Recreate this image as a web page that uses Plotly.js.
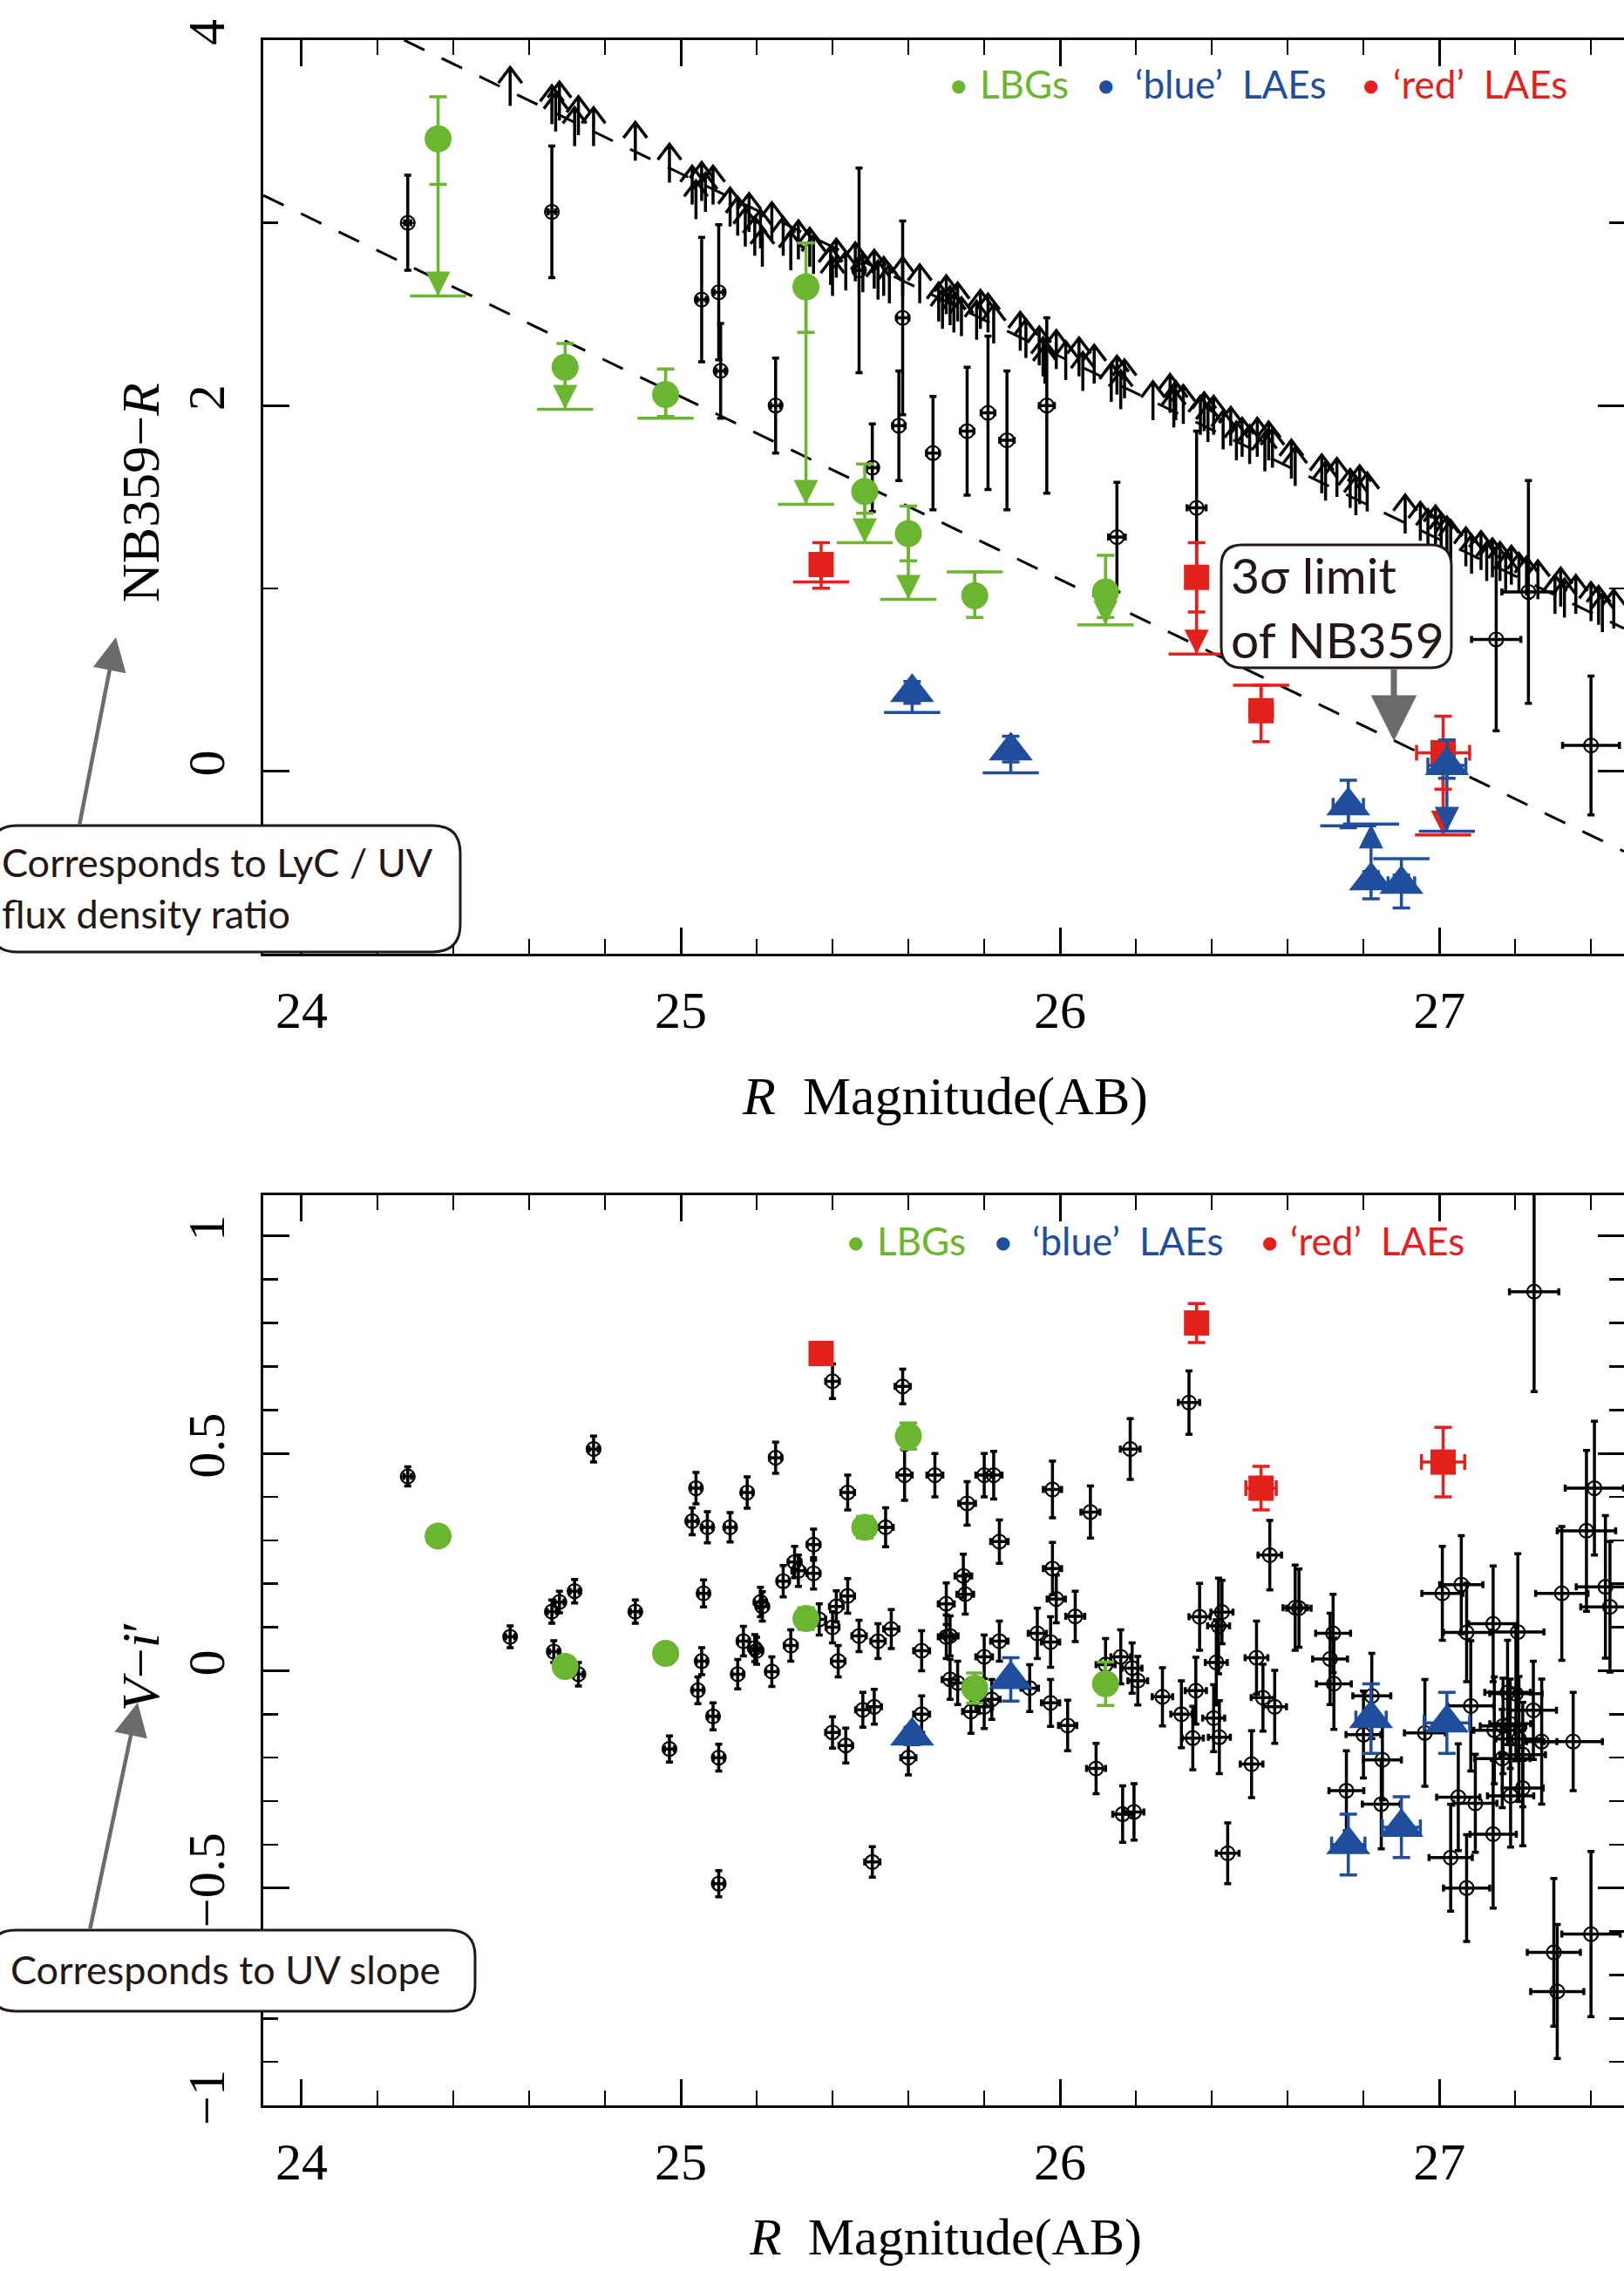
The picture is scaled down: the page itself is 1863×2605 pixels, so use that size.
<!DOCTYPE html>
<html><head><meta charset="utf-8">
<script src="https://cdn.plot.ly/plotly-3.0.1.min.js"></script>
<style>html,body{margin:0;padding:0;background:#fff;}#chart{width:1863px;height:2605px;}</style>
</head><body><div id="chart"></div>
<script>
// ---------------- DATA ----------------
// NB359 3-sigma limit lines (dashed)
const upperLineR = [24.27, 27.487];
const upperLineY = [4.0, 0.78];
const lowerLineR = [23.899, 27.487];
const lowerLineY = [3.15, -0.44];

// NB359 non-detections: lower limits of NB359-R (arrows)
const arrR = [24.55,24.66,24.67,24.68,24.72,24.73,24.77,24.88,24.97,25.03,25.04,25.055,25.065,25.085,25.13,25.15,25.17,25.18,25.195,25.21,25.215,25.24,25.27,25.29,25.31,25.34,25.35,25.395,25.40,25.41,25.435,25.46,25.48,25.51,25.52,25.535,25.55,25.585,25.63,25.68,25.69,25.70,25.71,25.72,25.73,25.74,25.78,25.79,25.81,25.825,25.895,25.91,25.945,25.955,25.96,25.99,26.015,26.05,26.06,26.09,26.135,26.15,26.16,26.17,26.245,26.29,26.30,26.305,26.325,26.37,26.38,26.39,26.405,26.43,26.45,26.465,26.48,26.50,26.52,26.54,26.55,26.56,26.61,26.62,26.69,26.70,26.73,26.765,26.78,26.79,26.81,26.91,26.95,26.97,26.99,27.005,27.02,27.03,27.07,27.085,27.11,27.125,27.14,27.16,27.175,27.19,27.21,27.23,27.26,27.305,27.32,27.33,27.36,27.40,27.42,27.43,27.46];
const arrTail = [3.64,3.54,3.50,3.56,3.42,3.48,3.42,3.34,3.22,3.10,3.02,3.12,3.06,3.10,2.98,2.93,2.87,2.95,2.82,2.86,2.76,2.90,2.82,2.74,2.80,2.76,2.72,2.66,2.60,2.70,2.63,2.68,2.62,2.64,2.58,2.60,2.56,2.60,2.56,2.46,2.42,2.50,2.44,2.40,2.46,2.38,2.36,2.42,2.40,2.34,2.30,2.26,2.22,2.16,2.12,2.20,2.14,2.16,2.08,2.12,2.02,2.06,1.98,2.04,1.92,1.96,1.88,1.92,1.90,1.84,1.86,1.80,1.84,1.76,1.78,1.70,1.72,1.68,1.72,1.64,1.70,1.66,1.60,1.56,1.52,1.48,1.50,1.44,1.40,1.46,1.42,1.30,1.26,1.22,1.24,1.20,1.18,1.16,1.12,1.08,1.10,1.04,1.06,1.04,0.98,1.02,0.98,0.96,0.94,0.86,0.90,0.84,0.86,0.82,0.80,0.76,0.78];

// NB359 detections (top panel, black)
const detR    = [24.28,24.66,25.055,25.10,25.105,25.25,25.47,25.585,25.575,25.505,25.665,25.755,25.81,25.86,25.965,26.15,26.36,27.15,27.235,27.40];
const detY    = [3.00,3.06,2.58,2.62,2.19,2.00,2.74,2.48,1.89,1.66,1.74,1.86,1.96,1.81,2.00,1.28,1.44,0.72,0.98,0.14];
const detErr  = [0.26,0.36,0.34,0.37,0.26,0.26,0.56,0.53,0.30,0.24,0.31,0.35,0.42,0.38,0.48,0.30,0.42,0.50,0.61,0.38];
const detXErr = [0.008,0.01,0.012,0.012,0.012,0.013,0.015,0.016,0.016,0.015,0.017,0.018,0.018,0.019,0.02,0.022,0.025,0.065,0.07,0.075];

// LBGs (green)
const lbgR         = [24.36,24.695,24.96,25.33,25.485,25.60,25.775,26.12];
const lbgTopY      = [3.46,2.21,2.06,2.65,1.53,1.30,0.96,0.98];
const lbgTopErrUp  = [0.23,0.13,0.14,0.24,0.15,0.15,0.13,0.20];
const lbgTopErrDn  = [0.25,0.12,0.12,0.25,0.12,0.15,0.12,0.14];
const lbgTopLim    = [2.60,1.98,1.93,1.46,1.25,0.94,1.09,0.80];
const lbgTopLimDir = ['down','down','down','down','down','down','up','down'];
const lbgBotY      = [0.31,0.01,0.04,0.12,0.33,0.54,-0.04,-0.03];
const lbgBotErr    = [0.015,0.015,0.015,0.025,0.025,0.03,0.035,0.05];

// 'red' LAEs
const redR         = [25.37,26.36,26.53,27.01];
const redTopY      = [1.13,1.06,0.33,0.10];
const redTopErrUp  = [0.12,0.19,0.14,0.20];
const redTopErrDn  = [0.13,0.19,0.17,0.20];
const redTopXErr   = [0,0,0.03,0.07];
const redTopLim    = [1.035,0.64,0.47,-0.35];
const redTopLimDir = ['down','down','up','down'];
const redBotY      = [0.73,0.80,0.42,0.48];
const redBotErr    = [0.025,0.045,0.05,0.08];
const redBotXErr   = [0.01,0.015,0.04,0.057];

// 'blue' LAEs
const blueR         = [25.61,25.87,26.76,26.82,26.90,27.02];
const blueTopY      = [0.43,0.11,-0.19,-0.60,-0.62,0.03];
const blueTopErrUp  = [0.06,0.08,0.14,0.05,0.05,0.14];
const blueTopErrDn  = [0.06,0.06,0.12,0.10,0.13,0.07];
const blueTopXErr   = [0,0,0.04,0,0.035,0.05];
const blueTopLim    = [0.32,-0.01,-0.30,-0.29,-0.48,-0.33];
const blueTopLimDir = ['down','down','down','up','up','down'];
const blueBotY      = [-0.15,-0.02,-0.40,-0.11,-0.36,-0.12];
const blueBotErr    = [0.02,0.05,0.07,0.08,0.07,0.07];
const blueBotXErr   = [0.01,0.015,0.044,0.04,0.05,0.06];

// V - i' colours of all objects (bottom panel, black)
const vR = [24.28,24.77,24.55,24.66,24.68,24.72,24.665,24.73,24.88,24.97,25.04,25.03,25.07,25.06,25.055,25.045,25.085,25.10,25.10,25.13,25.175,25.25,25.15,25.165,25.195,25.20,25.21,25.215,25.24,25.27,25.30,25.31,25.35,25.35,25.29,25.365,25.40,25.41,25.40,25.44,25.44,25.415,25.40,25.435,25.48,25.51,25.47,25.52,25.555,25.54,25.585,25.59,25.60,25.505,25.67,25.755,25.80,25.825,25.98,26.08,26.185,25.84,25.745,25.75,25.70,25.98,25.99,26.04,25.94,25.975,25.84,25.80,25.70,25.71,25.635,25.635,25.71,25.73,25.765,25.80,25.82,25.92,25.975,26.02,26.095,26.165,26.195,26.12,26.16,26.19,26.205,26.34,26.27,26.32,26.358,26.35,26.368,26.405,26.412,26.427,26.418,26.42,26.442,26.518,26.535,26.566,26.505,26.553,26.62,26.63,26.72,26.712,26.722,26.755,26.80,26.822,26.85,26.847,26.962,27.008,27.058,27.072,27.142,27.207,27.083,27.05,27.095,27.03,27.072,27.142,27.166,27.145,27.187,27.202,27.21,27.22,27.188,27.248,27.27,27.18,27.168,27.22,27.353,27.323,27.388,27.409,27.438,27.25,27.302,27.311,27.40,27.45];
const vY = [0.447,0.51,0.078,0.136,0.158,0.183,0.044,-0.008,0.136,-0.18,0.42,0.344,0.33,0.178,0.022,-0.045,-0.105,-0.20,-0.49,0.33,0.41,0.49,-0.008,0.068,0.052,0.046,0.158,0.148,-0.002,0.206,0.25,0.23,0.29,0.224,0.058,0.118,0.10,0.148,0.666,0.41,0.172,0.022,-0.142,-0.172,-0.09,-0.083,0.08,0.068,0.096,0.33,0.654,0.45,-0.20,-0.44,0.45,0.385,0.45,0.45,0.417,0.365,0.51,0.297,0.218,0.176,0.154,0.235,0.165,0.125,0.086,0.066,0.068,0.032,0.078,0.08,0.046,-0.10,-0.02,-0.028,-0.094,-0.083,-0.066,-0.04,-0.074,-0.126,-0.225,-0.33,-0.325,0.014,0.032,0.006,-0.023,0.617,-0.06,-0.10,-0.046,-0.155,0.124,-0.109,0.019,0.135,0.103,-0.153,-0.42,0.03,-0.062,-0.083,-0.215,0.266,0.145,0.144,0.086,0.027,-0.03,-0.276,-0.147,-0.058,-0.205,-0.307,-0.143,0.178,0.198,0.088,0.108,0.089,-0.081,-0.291,-0.305,-0.43,-0.50,-0.376,-0.202,-0.137,-0.122,-0.053,-0.157,-0.27,-0.288,-0.091,-0.163,-0.05,-0.127,-0.193,-0.163,0.178,0.322,0.42,0.193,0.872,-0.648,-0.738,-0.606,0.147];
const vErr = [0.022,0.03,0.025,0.027,0.025,0.027,0.025,0.027,0.027,0.03,0.036,0.031,0.036,0.031,0.031,0.031,0.031,0.031,0.03,0.034,0.036,0.036,0.034,0.034,0.031,0.031,0.034,0.034,0.034,0.036,0.036,0.036,0.036,0.036,0.036,0.036,0.036,0.036,0.04,0.04,0.04,0.036,0.036,0.04,0.04,0.04,0.036,0.04,0.045,0.045,0.04,0.058,0.04,0.035,0.05,0.05,0.05,0.055,0.065,0.06,0.07,0.05,0.05,0.046,0.048,0.06,0.055,0.058,0.058,0.058,0.046,0.05,0.05,0.046,0.046,0.042,0.046,0.05,0.05,0.05,0.046,0.054,0.054,0.058,0.058,0.065,0.065,0.06,0.062,0.058,0.056,0.073,0.067,0.077,0.077,0.073,0.077,0.077,0.098,0.073,0.11,0.084,0.07,0.084,0.077,0.084,0.077,0.08,0.098,0.09,0.09,0.105,0.105,0.092,0.10,0.098,0.092,0.103,0.123,0.108,0.113,0.113,0.133,0.18,0.15,0.123,0.113,0.123,0.123,0.17,0.113,0.123,0.103,0.154,0.144,0.133,0.118,0.113,0.144,0.12,0.11,0.12,0.113,0.154,0.185,0.154,0.164,0.23,0.17,0.154,0.19,0.15];
const vXErr = [0.01,0.012,0.012,0.012,0.012,0.012,0.012,0.012,0.013,0.013,0.014,0.014,0.014,0.014,0.014,0.014,0.014,0.014,0.014,0.015,0.015,0.016,0.015,0.015,0.015,0.015,0.016,0.016,0.016,0.016,0.017,0.017,0.017,0.017,0.017,0.017,0.017,0.018,0.018,0.018,0.018,0.018,0.018,0.018,0.019,0.019,0.019,0.019,0.02,0.02,0.02,0.02,0.02,0.02,0.021,0.022,0.022,0.022,0.024,0.025,0.026,0.023,0.022,0.022,0.021,0.024,0.024,0.025,0.024,0.024,0.023,0.022,0.021,0.021,0.021,0.021,0.021,0.022,0.022,0.022,0.022,0.023,0.024,0.024,0.025,0.026,0.026,0.025,0.026,0.026,0.026,0.028,0.027,0.028,0.028,0.028,0.028,0.029,0.029,0.029,0.029,0.029,0.03,0.03,0.031,0.031,0.03,0.031,0.032,0.032,0.046,0.046,0.046,0.046,0.046,0.05,0.05,0.05,0.054,0.054,0.057,0.061,0.065,0.069,0.061,0.057,0.057,0.057,0.061,0.061,0.073,0.054,0.054,0.069,0.061,0.054,0.061,0.061,0.04,0.06,0.06,0.06,0.077,0.069,0.077,0.077,0.077,0.065,0.07,0.07,0.077,0.077];

// ---------------- STYLE ----------------
const W = 1863, H = 2605;
const GREEN = '#6cb530', BLUE = '#1f4e9d', RED = '#e3211c', GRAY = '#6b6b6b';
const SERIF = 'Liberation Serif, DejaVu Serif, serif';
const SANS = 'Lato, Open Sans, sans-serif';

const traces = [];
function base(xa, ya){ return {xaxis:xa, yaxis:ya, hoverinfo:'skip', showlegend:false}; }

function dashed(R, Y, xa, ya){
  traces.push(Object.assign(base(xa,ya), {x:R, y:Y, mode:'lines', line:{color:'#000', width:3, dash:'26px,22px'}}));
}
function chevrons(R, tail, xa, ya){
  const len = 0.21, hw = 0.031, hh = 0.085;
  const xs = [], ys = [];
  for (let i = 0; i < R.length; i++){
    const head = tail[i] + len;
    xs.push(R[i], R[i], null, R[i]-hw, R[i], R[i]+hw, null);
    ys.push(tail[i], head, null, head-hh, head, head-hh, null);
  }
  traces.push(Object.assign(base(xa,ya), {x:xs, y:ys, mode:'lines', line:{color:'#000', width:3.5}}));
}
function blackPts(R, Y, eu, ed, ex, xa, ya){
  traces.push(Object.assign(base(xa,ya), {x:R, y:Y, mode:'markers',
    marker:{symbol:'circle-cross-open', size:16, color:'#000', line:{color:'#000', width:2.2}},
    error_y:{type:'data', symmetric:false, array:eu, arrayminus:ed, color:'#000', thickness:3.5, width:4},
    error_x:{type:'data', array:ex, color:'#000', thickness:3.5, width:4}}));
}
function limits(R, Y, L, dir, color, xa, ya){
  const lx=[], ly=[], bx=[], by=[], hx=[], hy=[], hs=[];
  for (let i = 0; i < R.length; i++){
    if (L[i] === null) continue;
    lx.push(R[i], R[i], null); ly.push(Y[i], L[i], null);
    bx.push(R[i]); by.push(L[i]);
    if (Math.abs(Y[i]-L[i]) > 0.15){ hx.push(R[i]); hy.push(L[i]); hs.push(dir[i]==='up' ? 'arrow-up' : 'arrow-down'); }
  }
  traces.push(Object.assign(base(xa,ya), {x:lx, y:ly, mode:'lines', line:{color, width:3.5}}));
  traces.push(Object.assign(base(xa,ya), {x:bx, y:by, mode:'markers', marker:{symbol:'line-ew', size:46, color, line:{color, width:3.5}}}));
  traces.push(Object.assign(base(xa,ya), {x:hx, y:hy, mode:'markers', marker:{symbol:hs, size:28, color, line:{width:0}}}));
}
function colorPts(R, Y, eu, ed, ex, symbol, size, color, xa, ya){
  traces.push(Object.assign(base(xa,ya), {x:R, y:Y, mode:'markers',
    marker:{symbol, size, color, line:{width:0}},
    error_y:{type:'data', symmetric:false, array:eu, arrayminus:ed, color, thickness:3.5, width:10},
    error_x:{type:'data', array:ex, color, thickness:3.5, width:9}}));
}

// ---- top panel ----
dashed(upperLineR, upperLineY, 'x', 'y');
dashed(lowerLineR, lowerLineY, 'x', 'y');
chevrons(arrR, arrTail, 'x', 'y');
blackPts(detR, detY, detErr, detErr, detXErr, 'x', 'y');
limits(lbgR, lbgTopY, lbgTopLim, lbgTopLimDir, GREEN, 'x', 'y');
limits(redR, redTopY, redTopLim, redTopLimDir, RED, 'x', 'y');
limits(blueR, blueTopY, blueTopLim, blueTopLimDir, BLUE, 'x', 'y');
colorPts(lbgR, lbgTopY, lbgTopErrUp, lbgTopErrDn, null, 'circle', 31, GREEN, 'x', 'y');
colorPts(redR, redTopY, redTopErrUp, redTopErrDn, redTopXErr, 'square', 29, RED, 'x', 'y');
colorPts(blueR, blueTopY, blueTopErrUp, blueTopErrDn, blueTopXErr, 'triangle-up', 44, BLUE, 'x', 'y');

// ---- bottom panel ----
blackPts(vR, vY, vErr, vErr, vXErr, 'x2', 'y2');
colorPts(lbgR, lbgBotY, lbgBotErr, lbgBotErr, null, 'circle', 31, GREEN, 'x2', 'y2');
colorPts(redR, redBotY, redBotErr, redBotErr, redBotXErr, 'square', 29, RED, 'x2', 'y2');
colorPts(blueR, blueBotY, blueBotErr, blueBotErr, blueBotXErr, 'triangle-up', 44, BLUE, 'x2', 'y2');

// ---------------- LAYOUT ----------------
const px = v => v / W, py = v => 1 - v / H;
const axisBase = {showgrid:false, zeroline:false, showline:true, linecolor:'#000', linewidth:3,
  mirror:'ticks', ticks:'inside', ticklen:30, tickwidth:3, tickcolor:'#000',
  tickfont:{family:SERIF, size:60, color:'#000'}};
const xAxis = (anchor) => Object.assign({}, axisBase, {range:[23.899, 27.487], domain:[px(302), 1],
  tick0:24, dtick:1, anchor, ticklabelstandoff:10,
  minor:{dtick:0.2, ticks:'inside', ticklen:17, tickwidth:2.5, tickcolor:'#000', showgrid:false}});

function rr(x0, y0, x1, y1, r){
  const X = v => px(v).toFixed(5), Y = v => py(v).toFixed(5);
  return `M${X(x0+r)},${Y(y0)} L${X(x1-r)},${Y(y0)} Q${X(x1)},${Y(y0)} ${X(x1)},${Y(y0+r)} L${X(x1)},${Y(y1-r)} Q${X(x1)},${Y(y1)} ${X(x1-r)},${Y(y1)} L${X(x0+r)},${Y(y1)} Q${X(x0)},${Y(y1)} ${X(x0)},${Y(y1-r)} L${X(x0)},${Y(y0+r)} Q${X(x0)},${Y(y0)} ${X(x0+r)},${Y(y0)} Z`;
}
const box = (x0,y0,x1,y1,r) => ({type:'path', xref:'paper', yref:'paper', path:rr(x0,y0,x1,y1,r),
  line:{color:'#231815', width:3}, fillcolor:'#fff', layer:'above'});

const ann = [];
const txt = (x, y, text, opts) => ann.push(Object.assign({xref:'paper', yref:'paper', x:px(x), y:py(y), text, showarrow:false}, opts));
// axis titles
txt(1084, 1258, '<i>R</i>\u00a0 Magnitude(AB)', {font:{family:SERIF, size:62, color:'#000'}, xanchor:'center', yanchor:'middle'});
txt(1084, 2566, '<i>R</i>\u00a0 Magnitude(AB)', {font:{family:SERIF, size:60, color:'#000'}, xanchor:'center', yanchor:'middle'});
txt(161, 565, 'NB359\u2212<i>R</i>', {font:{family:SERIF, size:62, color:'#000'}, textangle:-90, xanchor:'center', yanchor:'middle'});
txt(161, 1911, '<i>V</i>\u2212<i>i</i>\u2032', {font:{family:SERIF, size:62, color:'#000'}, textangle:-90, xanchor:'center', yanchor:'middle'});
// legends
const legItems = [
  {dx:[1099, 981], tx:[1122, 1004], text:'LBGs', color:GREEN},
  {dx:[1268, 1150], tx:[1300, 1182], text:'\u2018blue\u2019\u00a0\u00a0LAEs', color:BLUE},
  {dx:[1572, 1456], tx:[1596, 1478], text:'\u2018red\u2019\u00a0\u00a0LAEs', color:RED}];
[96, 1423].forEach((ly, k) => {
  legItems.forEach(it => {
    txt(it.dx[k], ly + 2, '\u25CF', {font:{family:'DejaVu Sans', size:20, color:it.color}, xanchor:'center', yanchor:'middle'});
    txt(it.tx[k], ly, it.text, {font:{family:SANS, size:44, color:it.color}, xanchor:'left', yanchor:'middle'});
  });
});
// boxed notes
txt(1410, 696, '3\u03c3 limit<br>of NB359', {font:{family:SANS, size:57, color:'#231815'}, xanchor:'left', yanchor:'middle', align:'left'});
txt(0, 1018, 'Corresponds to LyC / UV<br>flux density ratio', {font:{family:SANS, size:45, color:'#231815'}, xanchor:'left', yanchor:'middle', align:'left'});
txt(10, 2259, 'Corresponds to UV slope', {font:{family:SANS, size:45, color:'#231815'}, xanchor:'left', yanchor:'middle', align:'left'});
// gray arrows
const arrowAnn = (hx, hy, tx, ty, w, s) => ann.push({xref:'paper', yref:'paper', x:px(hx), y:py(hy), ax:tx-hx, ay:ty-hy,
  text:'', showarrow:true, arrowhead:2, arrowsize:s, arrowwidth:w, arrowcolor:GRAY});
arrowAnn(133, 731, 91, 947, 4.5, 1.7);
arrowAnn(158, 1953, 103, 2214, 4.5, 1.7);
arrowAnn(1599, 850, 1599, 766, 7, 1.5);

const layout = {
  width:W, height:H, margin:{l:0, r:0, t:0, b:0, pad:0},
  paper_bgcolor:'#fff', plot_bgcolor:'#fff', showlegend:false,
  xaxis: xAxis('y'),
  yaxis: Object.assign({}, axisBase, {range:[-1, 4], domain:[py(1094), py(46)], tick0:0, dtick:2, tickangle:-90, anchor:'x', ticklabelstandoff:18,
    minor:{dtick:1, ticks:'inside', ticklen:17, tickwidth:2.5, tickcolor:'#000', showgrid:false}}),
  xaxis2: xAxis('y2'),
  yaxis2: Object.assign({}, axisBase, {range:[-1, 1.094], domain:[py(2415), py(1371)], tick0:0, dtick:0.5, tickangle:-90, anchor:'x2', ticklabelstandoff:18,
    minor:{dtick:0.1, ticks:'inside', ticklen:17, tickwidth:2.5, tickcolor:'#000', showgrid:false}}),
  shapes:[box(1401, 625, 1665, 766, 24), box(-12, 947, 528, 1092, 32), box(-12, 2214, 545, 2307, 30)],
  annotations: ann
};
Plotly.newPlot('chart', traces, layout, {staticPlot:true, displayModeBar:false});
</script></body></html>
